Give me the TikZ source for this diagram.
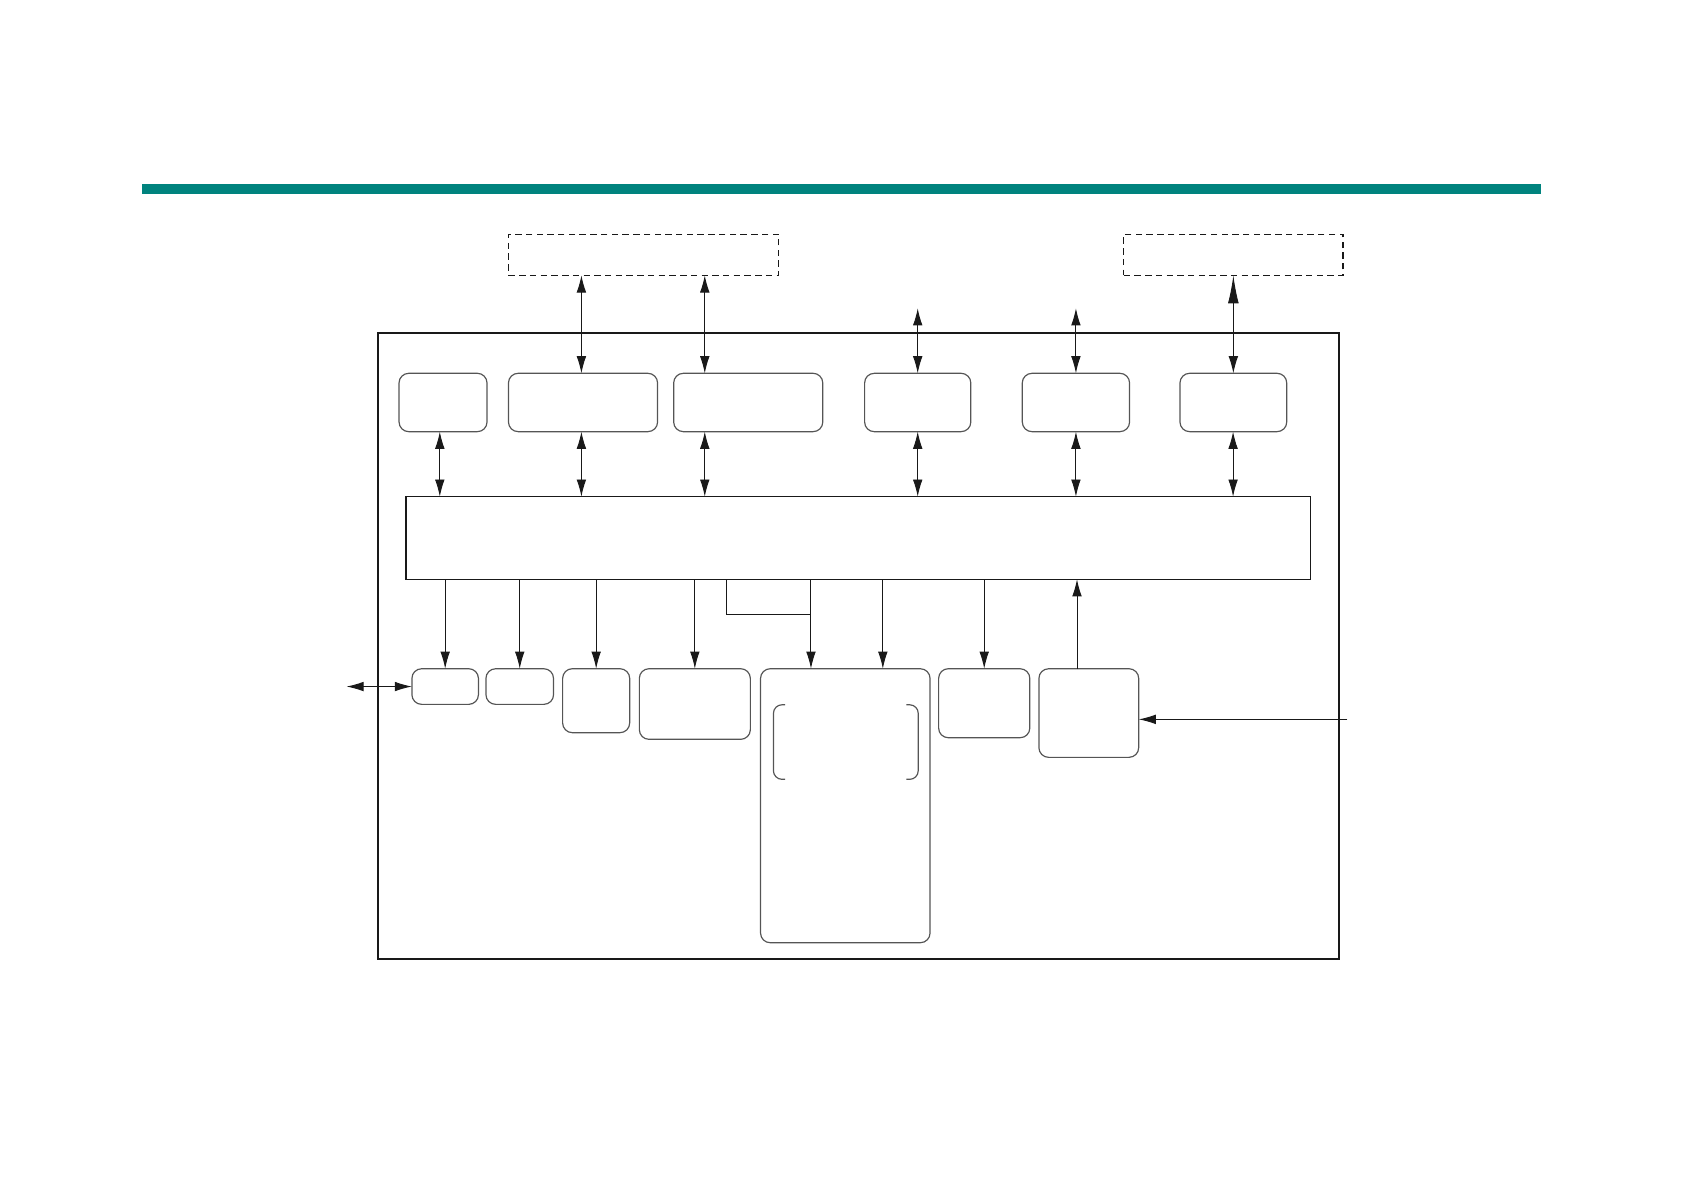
\documentclass[tikz,border=0pt]{standalone}
\usetikzlibrary{arrows.meta,calc}
\definecolor{tealbar}{RGB}{0,131,126}
\definecolor{boxgray}{RGB}{85,85,85}
\definecolor{ink}{RGB}{25,25,25}
\begin{document}
\begin{tikzpicture}[x=1pt,y=-1pt,
  >={Latex[length=16pt,width=9pt]},
  rbox/.style={draw=boxgray, line width=1.1pt, rounded corners=9pt, inner sep=0pt, outer sep=0pt},
  dbox/.style={draw=ink, line width=1.2pt, dash pattern=on 6pt off 4pt, inner sep=0pt, outer sep=0pt},
  conn/.style={draw=ink, line width=0.9pt},
  sz/.style 2 args={minimum width=#1, minimum height=#2}]
\useasboundingbox (0,0) rectangle (1568,1109);
% teal rule
\fill[tealbar] (132,171.5) rectangle (1437,180.5);
% frames
\node[draw=ink, line width=1.9pt, inner sep=0pt, outer sep=0pt, sz={896}{584.3}] (outer) at (800,602.15) {};
\node[draw=ink, line width=1.3pt, inner sep=0pt, outer sep=0pt, sz={843}{77}] (bus) at (800,501.5) {};
% dashed external boxes
\node[dbox, sz={252}{38.2}] (ext1) at (600,237.6) {};
\node[dbox, sz={204.5}{38.2}] (ext2) at (1149.75,237.6) {};
% top row
\node[rbox, sz={82}{54.4}] (A) at (413,375.2) {};
\node[rbox, sz={139}{54.4}] (B) at (543.5,375.2) {};
\node[rbox, sz={139}{54.4}] (C) at (697.5,375.2) {};
\node[rbox, sz={99}{54.4}] (D) at (855.5,375.2) {};
\node[rbox, sz={100}{54.4}] (E) at (1003,375.2) {};
\node[rbox, sz={99.5}{54.4}] (F) at (1149.75,375.2) {};
% bottom row
\node[rbox, sz={62}{33.2}] (L1) at (415,640) {};
\node[rbox, sz={63}{33.2}] (L2) at (484.5,640) {};
\node[rbox, sz={62.5}{59.6}] (L3) at (555.75,653.2) {};
\node[rbox, sz={103.5}{65.8}] (L4) at (647.75,656.3) {};
\node[rbox, sz={158}{255.4}] (L5) at (788,751.1) {};
\node[rbox, sz={85}{64.3}] (L6) at (917.5,655.55) {};
\node[rbox, sz={93}{82.6}] (L7) at (1015,664.7) {};
% inner bracket region
\node[inner sep=0pt, outer sep=0pt, sz={135}{69.5}] (inner) at (788.5,691.75) {};
\draw[draw=boxgray, line width=1.1pt, rounded corners=8pt]
  ($(inner.north west)+(11,0)$) -- (inner.north west) -- (inner.south west) -- ($(inner.south west)+(11,0)$);
\draw[draw=boxgray, line width=1.1pt, rounded corners=8pt]
  ($(inner.north east)+(-11,0)$) -- (inner.north east) -- (inner.south east) -- ($(inner.south east)+(-11,0)$);
% x positions
\coordinate (x410) at (410,0);
\coordinate (x542) at (542,0);
\coordinate (x657) at (657,0);
\coordinate (x677) at (677,0);
\coordinate (x756) at (756,0);
\coordinate (x823) at (823,0);
\coordinate (x1004) at (1004,0);
\coordinate (x1149) at (1149.5,0);
\coordinate (freeD) at (855.5,287.4);
\coordinate (freeE) at (1003,287.4);
\coordinate (freeL) at (323,640);
\coordinate (freeR) at (1256,670.6);
\coordinate (junc) at (756,572.4);
% upper connectors
\draw[conn,<->] (ext1.south -| x542) -- (B.north -| x542);
\draw[conn,<->] (ext1.south -| x657) -- (C.north -| x657);
\draw[conn,<->] (freeD) -- (D.north);
\draw[conn,<->] (freeE) -- (E.north);
\draw[conn,{Latex[length=26pt,width=10pt]}-{Latex[length=16pt,width=9pt]}] (ext2.south) -- (F.north);
\draw[conn,<->] (A.south -| x410) -- (bus.north -| x410);
\draw[conn,<->] (B.south -| x542) -- (bus.north -| x542);
\draw[conn,<->] (C.south -| x657) -- (bus.north -| x657);
\draw[conn,<->] (D.south) -- (bus.north -| D.south);
\draw[conn,<->] (E.south) -- (bus.north -| E.south);
\draw[conn,<->] (F.south -| x1149) -- (bus.north -| x1149);
% lower connectors
\draw[conn,->] (bus.south -| L1.north) -- (L1.north);
\draw[conn,->] (bus.south -| L2.north) -- (L2.north);
\draw[conn,->] (bus.south -| L3.north) -- (L3.north);
\draw[conn,->] (bus.south -| L4.north) -- (L4.north);
\draw[conn,->] (bus.south -| x756) -- (L5.north -| x756);
\draw[conn,->] (bus.south -| x823) -- (L5.north -| x823);
\draw[conn,->] (bus.south -| L6.north) -- (L6.north);
\draw[conn,->] (L7.north -| x1004) -- (bus.south -| x1004);
\draw[conn] (bus.south -| x677) |- (junc);
\draw[conn,<->] (freeL) -- (L1.west);
\draw[conn,->] (freeR) -- (L7.east |- freeR);
\end{tikzpicture}
\end{document}
